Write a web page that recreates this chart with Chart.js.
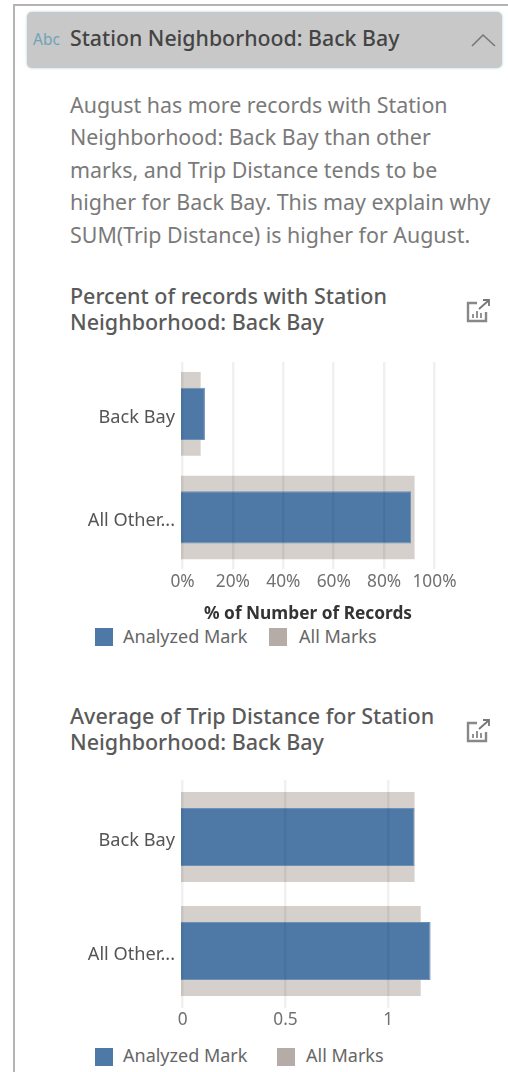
<!DOCTYPE html>
<html>
<head>
<meta charset="utf-8">
<script src="https://cdn.jsdelivr.net/npm/chart.js@4"></script>
<style>
  html, body { margin: 0; padding: 0; background: #fff; }
  body { width: 508px; height: 1072px; position: relative; overflow: hidden; font-family: "Noto Sans", sans-serif; filter: blur(0.5px); }
  .abs { position: absolute; white-space: nowrap; }
  #frameTop { left: 14px; top: 4px; width: 494px; height: 2px; background: #b4b4b4; }
  #frameLeft { left: 13px; top: 4px; width: 2px; height: 1068px; background: #b4b4b4; }
  #header { left: 27px; top: 12px; width: 475px; height: 56px; background: #c8c8c8; border-radius: 5px; box-shadow: 0 0 3px #a9cfe6; }
  #abc { left: 33px; top: 28px; font-size: 15.5px; color: #6fa3b8; }
  #fieldName { left: 70px; top: 23px; font-size: 21.3px; font-weight: 500; color: #444; }
  #summary { left: 70px; top: 88.5px; font-size: 21.4px; line-height: 32.5px; color: #7a7a7a; }
  .heading { left: 70px; font-size: 21.5px; font-weight: 500; line-height: 26px; color: #5a5a5a; }
  canvas { position: absolute; left: 60px; }
  .swatch { position: absolute; width: 18px; height: 18px; }
  .legendText { font-size: 18px; color: #666; }
  .icon { position: absolute; left: 465px; width: 26px; height: 26px; }
</style>
</head>
<body>
<div class="abs" id="frameTop"></div>
<div class="abs" id="frameLeft"></div>
<div class="abs" id="header"></div>
<div class="abs" id="abc">Abc</div>
<div class="abs" id="fieldName">Station Neighborhood: Back Bay</div>
<svg class="abs" style="left:470px;top:30px" width="27" height="20"><path d="M2 16 L13 5 L25 16" fill="none" stroke="#777" stroke-width="1.6"/></svg>
<div class="abs" id="summary">August has more records with Station<br>Neighborhood: Back Bay than other<br>marks, and Trip Distance tends to be<br>higher for Back Bay. This may explain why<br>SUM(Trip Distance) is higher for August.</div>

<div class="abs heading" style="top:283px">Percent of records with Station<br>Neighborhood: Back Bay</div>
<svg class="icon" style="top:298px" viewBox="0 0 26 26"><path d="M12 5H3v18h18v-9" fill="none" stroke="#888" stroke-width="2.4"/><path d="M14 11L23 3M18 2h6v6" fill="none" stroke="#777" stroke-width="1.8"/><path d="M8 20v-4M12 20v-7M16 20v-5" stroke="#888" stroke-width="1.8"/></svg>
<canvas id="percentChart" width="448" height="262" style="top:362px"></canvas>
<div class="swatch" style="left:95px;top:628px;background:#4e79a7"></div>
<div class="abs legendText" style="left:123px;top:624px">Analyzed Mark</div>
<div class="swatch" style="left:269px;top:628px;background:#b5aca7"></div>
<div class="abs legendText" style="left:299px;top:624px">All Marks</div>

<div class="abs heading" style="top:703px">Average of Trip Distance for Station<br>Neighborhood: Back Bay</div>
<svg class="icon" style="top:718px" viewBox="0 0 26 26"><path d="M12 5H3v18h18v-9" fill="none" stroke="#888" stroke-width="2.4"/><path d="M14 11L23 3M18 2h6v6" fill="none" stroke="#777" stroke-width="1.8"/><path d="M8 20v-4M12 20v-7M16 20v-5" stroke="#888" stroke-width="1.8"/></svg>
<canvas id="distanceChart" width="448" height="262" style="top:780px"></canvas>
<div class="swatch" style="left:95px;top:1048px;background:#4e79a7"></div>
<div class="abs legendText" style="left:123px;top:1043px">Analyzed Mark</div>
<div class="swatch" style="left:277px;top:1048px;background:#b5aca7"></div>
<div class="abs legendText" style="left:306px;top:1043px">All Marks</div>

<script>
const categories = ['Back Bay', 'All Other...'];

const percentAnalyzed = [8.9, 90.7];
const percentAll = [7.2, 92.1];
const percentTicks = [0, 20, 40, 60, 80, 100];

const distanceAnalyzed = [1.128, 1.206];
const distanceAll = [1.128, 1.158];
const distanceTicks = [0, 0.5, 1];

const fontFamily = '"Noto Sans", sans-serif';

// the bars start a touch left of the zero gridline in the original
function makeChart(id, opts) {
  return new Chart(document.getElementById(id), {
    type: 'bar',
    data: {
      labels: categories,
      datasets: [
        {
          label: 'Analyzed Mark',
          data: opts.analyzed,
          backgroundColor: '#4e79a7',
          borderColor: '#6d90b6',
          borderWidth: 1,
          base: opts.min,
          grouped: false,
          categoryPercentage: 1,
          barPercentage: opts.innerBar
        },
        {
          label: 'All Marks',
          data: opts.all,
          backgroundColor: '#d6d0cd',
          base: opts.min,
          grouped: false,
          categoryPercentage: 1,
          barPercentage: opts.outerBar
        }
      ]
    },
    options: {
      indexAxis: 'y',
      responsive: false,
      animation: false,
      layout: { autoPadding: false, padding: { right: opts.rightPad } },
      plugins: { legend: { display: false }, tooltip: { enabled: false } },
      scales: {
        x: {
          min: opts.min,
          max: opts.max,
          afterBuildTicks: scale => { scale.ticks = opts.ticks.map(v => ({ value: v })); },
          afterFit: scale => { scale.height = 262 - opts.plotHeight; },
          border: { display: false },
          grid: { color: 'rgba(0,0,0,0.06)', lineWidth: 2.5, z: 1, drawTicks: false },
          ticks: {
            color: '#707070',
            padding: 2,
            maxRotation: 0,
            autoSkip: false,
            font: { family: fontFamily, size: 17.3 },
            callback: opts.format
          },
          title: {
            display: !!opts.axisTitle,
            text: opts.axisTitle,
            color: '#333',
            padding: { top: 8, bottom: 0 },
            font: { family: fontFamily, size: 17.3, weight: 'bold' }
          }
        },
        y: {
          // no room reserved above and below for the category labels
          afterFit: scale => { scale.width = 121; scale.paddingTop = 0; scale.paddingBottom = 0; },
          border: { display: false },
          grid: { display: false, drawTicks: false },
          ticks: {
            color: '#555',
            padding: 6,
            labelOffset: 3.5,
            font: { family: fontFamily, size: 18.2 }
          }
        }
      }
    }
  });
}

makeChart('percentChart', {
  analyzed: percentAnalyzed,
  all: percentAll,
  ticks: percentTicks,
  min: -0.6,
  max: 100.2,
  rightPad: 73,
  plotHeight: 207.3,
  innerBar: 0.504,
  outerBar: 0.807,
  axisTitle: '% of Number of Records',
  format: v => v + '%'
});

makeChart('distanceChart', {
  analyzed: distanceAnalyzed,
  all: distanceAll,
  ticks: distanceTicks,
  min: -0.008,
  max: 1.349,
  rightPad: 48,
  plotHeight: 228,
  innerBar: 0.51,
  outerBar: 0.79,
  axisTitle: '',
  format: v => String(v)
});
</script>
</body>
</html>
